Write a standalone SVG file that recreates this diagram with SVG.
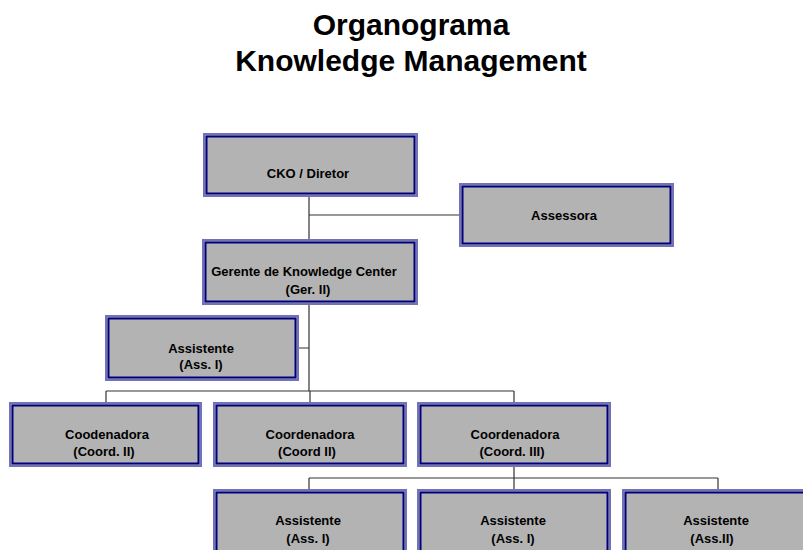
<svg xmlns="http://www.w3.org/2000/svg" width="803" height="550" viewBox="0 0 803 550">
<style>
.o{fill:#b3b3b3;stroke:#7272ba;stroke-width:2}
.i{fill:#b3b3b3;stroke:#00007f;stroke-width:2}
.t{font-family:"Liberation Sans",Arial,sans-serif;font-weight:bold;font-size:13px;fill:#000;text-anchor:middle}
.h{font-family:"Liberation Sans",Arial,sans-serif;font-weight:bold;font-size:30px;fill:#000;text-anchor:middle}
.c{fill:none;stroke:#333;stroke-width:1.2}
</style>
<rect width="803" height="550" fill="#fff"/>
<g id="title">
<text class="h" x="411" y="35">Organograma</text>
<text class="h" x="411" y="71">Knowledge Management</text>
</g>
<g id="connectors">
<path class="c" d="M309,197V239M309,215H459M309,305V391M299,348H309M106,391H514M106,391V402M310,391V402M514,391V402M514,467V478M309,478H718M309,478V489M514,478V489M718,478V489"/>
</g>
<g id="cko">
<rect class="o" x="204" y="134" width="213" height="62"/><rect class="i" x="206.5" y="136.5" width="208" height="57"/>
<text class="t" x="308" y="178">CKO / Diretor</text>
</g>
<g id="assessora">
<rect class="o" x="460" y="184" width="213" height="62"/><rect class="i" x="462.5" y="186.5" width="208" height="57"/>
<text class="t" x="564" y="220">Assessora</text>
</g>
<g id="gerente">
<rect class="o" x="203" y="240" width="214" height="64"/><rect class="i" x="205.5" y="242.5" width="209" height="59"/>
<text class="t" x="304" y="276">Gerente de Knowledge Center</text>
<text class="t" x="308" y="294">(Ger. II)</text>
</g>
<g id="assistente1">
<rect class="o" x="106" y="316" width="192" height="64"/><rect class="i" x="108.5" y="318.5" width="187" height="59"/>
<text class="t" x="201" y="353">Assistente</text>
<text class="t" x="201" y="369">(Ass. I)</text>
</g>
<g id="coord1">
<rect class="o" x="10" y="403" width="191" height="63"/><rect class="i" x="12.5" y="405.5" width="186" height="58"/>
<text class="t" x="107" y="439">Coodenadora</text>
<text class="t" x="104" y="456">(Coord. II)</text>
</g>
<g id="coord2">
<rect class="o" x="214" y="403" width="192" height="63"/><rect class="i" x="216.5" y="405.5" width="187" height="58"/>
<text class="t" x="310" y="439">Coordenadora</text>
<text class="t" x="307" y="456">(Coord II)</text>
</g>
<g id="coord3">
<rect class="o" x="418" y="403" width="192" height="63"/><rect class="i" x="420.5" y="405.5" width="187" height="58"/>
<text class="t" x="515" y="439">Coordenadora</text>
<text class="t" x="512" y="456">(Coord. III)</text>
</g>
<g id="assistente2">
<rect class="o" x="214" y="490" width="192" height="64"/><rect class="i" x="216.5" y="492.5" width="187" height="59"/>
<text class="t" x="308" y="525">Assistente</text>
<text class="t" x="308" y="543">(Ass. I)</text>
</g>
<g id="assistente3">
<rect class="o" x="418" y="490" width="192" height="64"/><rect class="i" x="420.5" y="492.5" width="187" height="59"/>
<text class="t" x="513" y="525">Assistente</text>
<text class="t" x="513" y="543">(Ass. I)</text>
</g>
<g id="assistente4">
<rect class="o" x="623" y="490" width="192" height="64"/><rect class="i" x="625.5" y="492.5" width="187" height="59"/>
<text class="t" x="716" y="525">Assistente</text>
<text class="t" x="712" y="543">(Ass.II)</text>
</g>
</svg>
